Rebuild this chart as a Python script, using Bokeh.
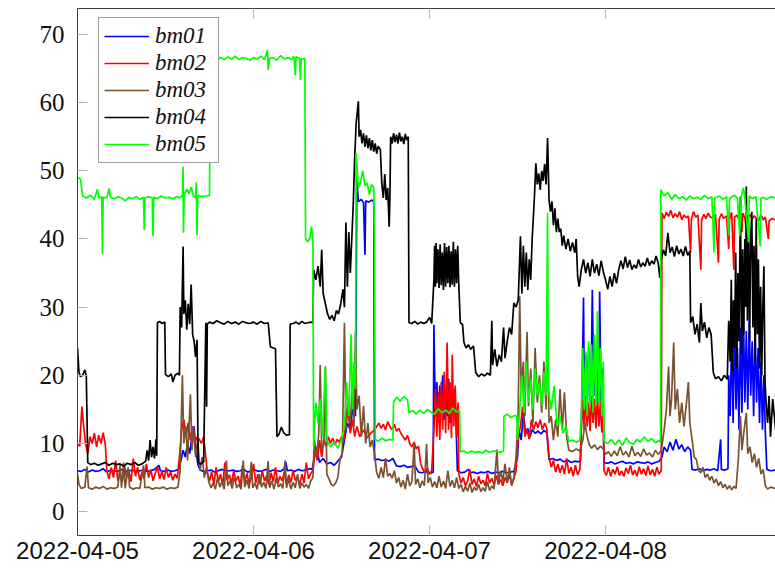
import pandas as pd
from bokeh.plotting import figure
from bokeh.models import (Range1d, FixedTicker, DatetimeTickFormatter, DatetimeAxis,
                          Legend, LegendItem, CustomJSTickFormatter)
from bokeh.embed import file_html
from bokeh.resources import INLINE

# ---------------- data (hours after 2022-04-05 00:00, value) ----------------
START = "2022-04-05 00:00"
X_END_HOURS = 95.18
DATE_TICKS = ["2022-04-05", "2022-04-06", "2022-04-07", "2022-04-08"]
Y_TICKS = [0, 10, 20, 30, 40, 50, 60, 70]
NAMES = ["bm01", "bm02", "bm03", "bm04", "bm05"]
COLORS = ["#0000ff", "#ff0000", "#7a5230", "#000000", "#00ff00"]

bm01 = [(0, 6.0), (0.5, 5.9), (1.0, 6.2), (1.5, 5.8), (2.0, 6.1), (2.5, 5.9), (3.0, 6.0), (3.5, 6.3),
        (4.0, 5.8), (4.5, 6.1), (5.0, 6.0), (5.5, 5.9), (6.0, 6.2), (6.5, 5.9), (7.0, 6.0), (7.5, 6.1),
        (8.0, 5.8), (8.5, 6.0), (9.0, 6.1), (9.5, 5.9), (10.0, 6.0), (10.5, 6.2), (11.1, 6.8), (11.3, 6.0),
        (11.8, 5.9), (12.3, 6.1), (12.8, 5.9), (13.3, 6.0), (13.8, 6.2), (14.1, 7.5), (14.4, 9.0), (14.7, 8.0),
        (15.0, 10.0), (15.3, 8.5), (15.6, 11.0), (15.9, 12.5), (16.1, 9.5), (16.4, 7.0), (16.7, 6.1),
        (17.2, 5.9), (17.7, 6.0), (18.2, 6.1), (18.7, 5.8), (19.2, 6.0), (19.7, 6.2), (20.2, 5.9), (20.7, 6.0),
        (21.2, 6.1), (21.7, 5.9), (22.2, 6.0), (22.7, 6.2), (23.2, 5.8), (23.7, 6.0), (24.2, 6.1), (24.7, 5.9),
        (25.2, 6.0), (25.7, 6.2), (26.2, 5.9), (26.7, 6.1), (27.2, 6.0), (27.7, 5.9), (28.2, 6.3), (28.4, 7.3),
        (28.6, 6.0), (29.1, 6.1), (29.6, 5.9), (30.1, 6.2), (30.6, 6.0), (31.1, 6.1), (31.6, 6.3), (32.0, 6.2),
        (32.3, 8.0), (32.6, 9.5), (33.0, 7.2), (33.5, 7.8), (34.0, 7.0), (34.5, 7.2), (35.0, 6.8), (35.5, 7.4),
        (36.0, 8.0), (36.4, 10.5), (36.8, 13.0), (37.2, 12.0), (37.6, 16.0), (37.9, 14.0), (38.1, 48.7),
        (38.3, 45.5), (38.7, 45.8), (39.0, 45.3), (39.2, 37.7), (39.3, 45.6), (39.7, 45.4), (40.1, 45.7),
        (40.4, 45.5), (40.5, 7.6), (41.0, 7.7), (41.5, 7.5), (42.0, 7.6), (42.5, 7.4), (43.0, 7.8), (43.5, 6.7),
        (44.0, 6.6), (44.5, 6.8), (45.0, 6.5), (45.5, 6.6), (46.0, 6.7), (46.5, 5.8), (47.0, 5.7), (47.5, 5.9),
        (48.0, 5.6), (48.5, 5.8), (48.6, 27.4), (48.8, 14.0), (49.0, 19.0), (49.2, 13.0), (49.4, 18.5),
        (49.6, 14.5), (49.8, 20.0), (50.0, 13.5), (50.2, 18.0), (50.4, 14.0), (50.6, 19.5), (50.8, 13.0),
        (51.0, 17.0), (51.2, 14.0), (51.4, 18.0), (51.6, 13.5), (51.8, 6.0), (52.3, 5.7), (52.8, 5.8),
        (53.3, 6.2), (53.5, 5.7), (54.0, 5.8), (54.5, 5.6), (55.0, 5.8), (55.5, 5.7), (56.0, 5.9), (56.5, 5.6),
        (57.0, 5.8), (57.5, 5.7), (58.0, 5.9), (58.5, 5.7), (59.0, 5.8), (59.5, 5.9), (60.0, 8.0), (60.2, 12.0),
        (60.5, 10.5), (60.8, 14.5), (61.1, 11.5), (61.4, 12.2), (61.7, 11.0), (62.0, 12.0), (62.4, 11.5),
        (62.8, 11.8), (63.2, 11.4), (63.6, 11.9), (64.0, 11.6), (64.3, 7.6), (64.8, 7.8), (65.3, 7.5),
        (65.8, 7.7), (66.3, 7.3), (66.8, 7.6), (67.3, 7.2), (67.8, 7.4), (68.3, 7.3), (68.6, 7.5), (68.8, 18.0),
        (69.0, 31.4), (69.1, 17.0), (69.3, 23.0), (69.5, 15.0), (69.7, 24.0), (69.9, 16.0), (70.1, 24.0),
        (70.2, 32.5), (70.4, 17.0), (70.6, 23.0), (70.8, 15.5), (71.0, 22.0), (71.1, 16.0), (71.2, 32.3),
        (71.4, 16.0), (71.6, 21.0), (71.8, 7.2), (72.3, 7.1), (72.8, 7.3), (73.3, 7.0), (73.8, 7.2),
        (74.3, 7.4), (74.8, 7.1), (75.3, 7.2), (75.8, 7.0), (76.3, 7.3), (76.8, 7.2), (77.3, 7.1), (77.8, 7.3),
        (78.3, 7.0), (78.8, 7.2), (79.3, 7.4), (79.7, 8.0), (80.0, 9.5), (80.4, 8.8), (80.8, 10.2), (81.2, 9.0),
        (81.6, 10.6), (82.0, 9.2), (82.4, 9.8), (82.8, 8.8), (83.2, 9.5), (83.6, 9.0), (83.8, 6.2), (84.3, 6.1),
        (84.8, 6.3), (85.3, 6.0), (85.8, 6.2), (86.3, 6.1), (86.8, 6.3), (87.3, 6.0), (87.7, 10.6), (87.8, 6.2),
        (88.3, 6.1), (88.7, 6.3), (88.8, 20.0), (89.0, 14.0), (89.2, 26.0), (89.4, 13.0), (89.6, 28.0),
        (89.8, 15.0), (90.0, 24.0), (90.2, 12.0), (90.4, 27.0), (90.6, 14.5), (90.8, 29.5), (91.0, 16.0),
        (91.2, 26.5), (91.4, 15.0), (91.6, 28.0), (91.8, 17.0), (92.0, 25.0), (92.2, 14.0), (92.4, 27.0),
        (92.6, 16.0), (92.8, 24.0), (93.0, 13.0), (93.2, 22.0), (93.4, 12.0), (93.6, 20.0), (93.8, 11.5),
        (94.0, 6.2), (94.5, 6.0), (95.2, 6.1)]

bm02 = [(0, 10.0), (0.3, 9.6), (0.6, 15.4), (0.8, 13.0), (1.1, 10.0), (1.4, 8.5), (1.7, 11.0), (2.0, 10.0),
        (2.3, 11.5), (2.6, 9.5), (2.9, 11.2), (3.2, 10.0), (3.5, 11.6), (3.8, 9.8), (4.0, 6.0), (4.3, 4.8),
        (4.6, 6.5), (4.9, 5.0), (5.2, 7.5), (5.5, 4.5), (5.8, 5.5), (6.1, 4.3), (6.4, 6.8), (6.7, 5.0),
        (7.0, 6.0), (7.3, 4.4), (7.6, 7.8), (7.9, 5.2), (8.2, 6.5), (8.5, 4.6), (8.8, 5.8), (9.1, 4.8),
        (9.4, 7.0), (9.7, 5.0), (10.0, 6.2), (10.3, 4.5), (10.6, 5.6), (10.9, 6.6), (11.2, 4.8), (11.5, 5.9),
        (11.8, 4.7), (12.1, 6.5), (12.4, 5.0), (12.7, 5.8), (13.0, 4.6), (13.3, 5.5), (13.6, 4.9), (13.9, 8.0),
        (14.2, 12.0), (14.5, 13.5), (14.8, 11.0), (15.1, 13.0), (15.4, 10.5), (15.7, 12.5), (16.0, 10.0),
        (16.3, 11.0), (16.6, 10.6), (16.9, 10.0), (17.2, 11.0), (17.5, 8.0), (17.7, 5.7), (18.0, 4.5),
        (18.3, 5.8), (18.6, 4.0), (18.9, 6.5), (19.2, 4.4), (19.5, 5.5), (19.8, 3.9), (20.1, 7.2), (20.4, 4.6),
        (20.7, 5.4), (21.0, 4.1), (21.3, 6.0), (21.6, 4.5), (21.9, 5.2), (22.2, 3.8), (22.5, 6.8), (22.8, 4.3),
        (23.1, 5.6), (23.4, 4.0), (23.7, 5.0), (24.0, 7.0), (24.3, 4.2), (24.6, 5.5), (24.9, 4.0), (25.2, 6.0),
        (25.5, 4.5), (25.8, 5.3), (26.1, 3.9), (26.4, 5.7), (26.7, 4.4), (27.0, 6.5), (27.3, 4.1), (27.6, 5.2),
        (27.9, 4.5), (28.2, 5.8), (28.5, 4.0), (28.8, 5.4), (29.1, 4.3), (29.4, 6.0), (29.7, 4.6), (30.0, 5.1),
        (30.3, 3.9), (30.6, 5.5), (30.9, 4.2), (31.2, 7.2), (31.5, 4.8), (31.8, 5.6), (32.1, 6.0), (32.4, 9.0),
        (32.7, 7.5), (33.0, 10.5), (33.3, 8.0), (33.6, 10.6), (33.9, 9.5), (34.2, 11.0), (34.5, 10.0),
        (34.8, 10.8), (35.1, 9.8), (35.4, 10.6), (35.7, 10.2), (36.0, 11.0), (36.3, 10.5), (36.6, 13.0),
        (36.9, 15.0), (37.2, 11.5), (37.5, 13.5), (37.8, 11.0), (38.1, 12.5), (38.5, 11.0), (39.0, 12.0),
        (39.5, 10.8), (40.0, 11.5), (40.5, 12.0), (40.8, 12.5), (41.1, 13.0), (41.4, 12.2), (41.7, 12.8),
        (42.0, 12.0), (42.3, 13.2), (42.6, 12.5), (42.9, 12.0), (43.2, 12.8), (43.5, 11.8), (43.8, 12.2),
        (44.1, 11.5), (44.4, 11.0), (44.7, 10.5), (45.0, 11.2), (45.3, 10.0), (45.6, 9.5), (45.9, 10.2),
        (46.2, 9.2), (46.5, 9.6), (46.8, 7.0), (47.1, 6.2), (47.4, 5.8), (47.7, 6.4), (48.0, 5.5), (48.3, 6.0),
        (48.6, 12.0), (48.8, 18.0), (49.0, 11.0), (49.2, 17.5), (49.4, 10.5), (49.6, 19.0), (49.8, 12.0),
        (50.0, 20.5), (50.2, 11.5), (50.4, 24.8), (50.6, 12.0), (50.8, 19.0), (51.0, 10.8), (51.1, 23.0),
        (51.3, 12.5), (51.5, 18.5), (51.7, 11.0), (51.9, 16.0), (52.0, 5.5), (52.3, 4.2), (52.6, 5.0),
        (52.9, 3.8), (53.2, 4.5), (53.5, 6.2), (53.8, 4.0), (54.1, 4.8), (54.4, 3.7), (54.7, 5.2), (55.0, 4.1),
        (55.3, 4.6), (55.6, 3.8), (55.9, 5.6), (56.2, 4.2), (56.5, 4.9), (56.8, 3.9), (57.1, 5.3), (57.4, 4.0),
        (57.7, 4.7), (58.0, 3.8), (58.3, 5.0), (58.6, 4.3), (58.9, 5.4), (59.2, 4.0), (59.5, 4.8), (59.8, 6.0),
        (60.1, 11.0), (60.4, 12.5), (60.7, 15.4), (61.0, 11.0), (61.3, 12.0), (61.6, 10.6), (61.9, 13.5),
        (62.2, 12.0), (62.5, 13.2), (62.8, 12.3), (63.1, 13.5), (63.4, 12.0), (63.7, 13.0), (64.0, 12.2),
        (64.3, 8.0), (64.6, 6.5), (64.9, 7.5), (65.2, 5.8), (65.5, 7.0), (65.8, 5.7), (66.1, 6.8), (66.4, 5.5),
        (66.7, 7.8), (67.0, 5.6), (67.3, 6.5), (67.6, 5.2), (67.9, 6.8), (68.2, 5.4), (68.5, 6.2), (68.7, 12.0),
        (68.9, 16.5), (69.1, 12.0), (69.3, 17.0), (69.5, 12.5), (69.7, 16.0), (69.9, 11.8), (70.1, 17.0),
        (70.3, 13.0), (70.5, 16.5), (70.7, 12.2), (70.9, 17.2), (71.1, 12.5), (71.3, 16.0), (71.5, 11.6),
        (71.7, 14.0), (71.8, 6.0), (72.1, 5.3), (72.4, 6.5), (72.7, 5.2), (73.0, 6.2), (73.3, 5.5), (73.6, 6.6),
        (73.9, 5.3), (74.2, 6.0), (74.5, 5.2), (74.8, 6.4), (75.1, 5.6), (75.4, 6.8), (75.7, 5.4), (76.0, 6.1),
        (76.3, 5.2), (76.6, 6.6), (76.9, 5.5), (77.2, 6.3), (77.5, 5.3), (77.8, 6.7), (78.1, 5.4), (78.4, 6.2),
        (78.7, 5.2), (79.0, 6.5), (79.3, 5.5), (79.6, 6.0), (79.7, 43.8), (80.0, 43.0), (80.3, 43.9),
        (80.6, 43.3), (80.9, 44.2), (81.2, 43.1), (81.5, 43.7), (81.8, 43.2), (82.1, 44.0), (82.4, 42.8),
        (82.7, 43.5), (83.0, 43.1), (83.3, 43.4), (83.6, 38.0), (83.7, 42.9), (84.0, 44.0), (84.3, 43.2),
        (84.6, 43.5), (85.0, 35.5), (85.1, 42.8), (85.4, 43.6), (85.7, 43.0), (86.0, 43.8), (86.3, 43.2),
        (86.6, 43.1), (87.0, 43.6), (87.4, 36.5), (87.5, 42.9), (87.8, 43.7), (88.1, 43.0), (88.5, 43.4),
        (88.8, 38.5), (88.9, 42.8), (89.2, 43.9), (89.5, 35.5), (89.6, 43.2), (89.9, 43.5), (90.2, 42.9),
        (90.6, 41.0), (90.7, 43.8), (91.0, 43.1), (91.3, 41.0), (91.4, 43.3), (91.7, 43.6), (92.0, 42.9),
        (92.3, 43.4), (92.6, 43.0), (92.9, 42.7), (93.2, 43.5), (93.5, 42.8), (93.8, 43.2), (94.2, 40.0),
        (94.3, 42.6), (94.7, 43.0), (95.2, 42.8)]

bm03 = [(0, 5.5), (0.2, 4.0), (0.5, 3.4), (1.0, 3.6), (1.3, 6.6), (1.5, 3.5), (2.0, 3.3), (2.5, 3.6),
        (3.0, 3.4), (3.5, 3.7), (4.0, 3.3), (4.5, 3.5), (5.0, 3.4), (5.5, 3.6), (5.8, 6.8), (6.0, 3.5),
        (6.3, 7.2), (6.5, 3.4), (6.9, 6.5), (7.1, 3.6), (7.6, 3.3), (8.0, 3.5), (8.5, 3.4), (9.0, 6.8),
        (9.2, 3.5), (9.7, 3.6), (10.2, 3.3), (10.7, 3.5), (11.2, 3.4), (11.7, 3.6), (12.2, 3.3), (12.7, 3.5),
        (13.2, 3.4), (13.7, 3.6), (14.0, 6.0), (14.3, 20.0), (14.5, 10.0), (14.8, 12.5), (15.0, 7.5),
        (15.4, 17.2), (15.6, 9.0), (15.8, 12.5), (16.1, 8.0), (16.4, 10.5), (16.7, 6.0), (17.0, 8.0),
        (17.3, 5.0), (17.6, 6.5), (17.9, 4.4), (18.2, 3.5), (18.5, 4.2), (18.8, 3.3), (19.1, 5.0), (19.4, 3.6),
        (19.7, 4.4), (20.0, 3.3), (20.3, 7.5), (20.5, 3.8), (20.8, 4.5), (21.1, 3.4), (21.4, 5.2), (21.7, 3.5),
        (22.0, 4.0), (22.3, 3.3), (22.6, 7.5), (22.8, 3.6), (23.1, 4.6), (23.4, 3.4), (23.7, 7.3), (23.9, 3.5),
        (24.2, 4.2), (24.5, 3.3), (24.8, 5.5), (25.1, 3.6), (25.4, 4.3), (25.7, 3.4), (26.0, 7.4), (26.2, 3.5),
        (26.5, 4.5), (26.8, 3.3), (27.1, 5.0), (27.4, 3.6), (27.7, 4.1), (28.0, 3.4), (28.3, 7.5), (28.5, 3.5),
        (28.8, 4.8), (29.1, 3.3), (29.4, 4.3), (29.7, 3.5), (30.0, 5.5), (30.3, 3.4), (30.6, 4.2), (30.9, 3.6),
        (31.2, 4.0), (31.5, 3.4), (31.8, 4.5), (32.1, 5.0), (32.3, 10.6), (32.6, 8.0), (32.9, 11.5),
        (33.1, 21.5), (33.3, 9.0), (33.6, 10.0), (33.8, 21.3), (34.0, 5.5), (34.3, 4.8), (34.6, 4.0),
        (34.9, 3.8), (35.2, 4.2), (35.5, 5.0), (35.8, 7.8), (36.1, 8.5), (36.4, 27.7), (36.6, 12.0),
        (36.9, 16.0), (37.2, 13.0), (37.5, 19.0), (37.7, 12.5), (37.9, 26.4), (38.1, 15.0), (38.4, 17.0),
        (38.7, 11.0), (39.0, 15.5), (39.3, 10.0), (39.6, 13.0), (39.9, 9.5), (40.2, 10.5), (40.5, 8.5),
        (40.8, 5.7), (41.1, 4.9), (41.4, 6.5), (41.7, 5.0), (42.0, 7.8), (42.3, 5.2), (42.6, 5.6), (42.9, 4.9),
        (43.2, 6.0), (43.5, 4.2), (43.8, 5.0), (44.1, 3.6), (44.4, 4.6), (44.7, 3.3), (45.0, 5.5), (45.3, 3.8),
        (45.6, 4.4), (45.9, 9.9), (46.1, 4.0), (46.4, 4.8), (46.7, 3.5), (47.0, 4.5), (47.3, 3.8), (47.6, 9.9),
        (47.8, 4.2), (48.1, 5.0), (48.4, 3.6), (48.7, 4.4), (49.0, 3.5), (49.3, 5.2), (49.6, 3.6), (49.9, 4.5),
        (50.2, 3.4), (50.5, 6.0), (50.8, 3.7), (51.1, 4.6), (51.4, 3.5), (51.7, 5.0), (52.0, 3.4), (52.3, 4.0),
        (52.6, 2.9), (52.9, 3.7), (53.2, 3.0), (53.5, 4.2), (53.8, 2.8), (54.1, 3.6), (54.4, 3.1), (54.7, 4.0),
        (55.0, 2.9), (55.3, 3.5), (55.6, 3.0), (55.9, 4.4), (56.2, 3.1), (56.5, 3.8), (56.8, 3.3), (57.2, 9.1),
        (57.4, 4.0), (57.7, 6.0), (58.0, 4.4), (58.3, 7.0), (58.6, 4.2), (58.9, 6.5), (59.2, 3.8), (59.5, 5.0),
        (59.8, 8.0), (60.1, 15.0), (60.3, 31.6), (60.5, 18.0), (60.8, 22.0), (61.0, 14.0), (61.3, 26.4),
        (61.5, 15.5), (61.8, 21.0), (62.1, 13.0), (62.4, 24.0), (62.7, 16.0), (63.0, 20.0), (63.3, 14.5),
        (63.6, 22.0), (63.9, 15.0), (64.1, 27.9), (64.3, 13.0), (64.6, 14.0), (64.9, 10.5), (65.2, 13.5),
        (65.5, 11.0), (65.8, 18.0), (66.1, 12.0), (66.4, 17.5), (66.7, 11.0), (67.0, 9.0), (67.5, 8.8),
        (68.0, 9.2), (68.5, 8.9), (68.9, 10.5), (69.2, 13.0), (69.5, 11.0), (69.8, 9.8), (70.1, 9.3),
        (70.5, 9.8), (70.9, 9.1), (71.3, 9.6), (71.7, 9.2), (72.0, 8.4), (72.4, 8.8), (72.8, 8.1), (73.2, 8.9),
        (73.6, 8.2), (74.0, 9.5), (74.4, 8.3), (74.8, 8.8), (75.2, 8.0), (75.6, 9.6), (76.0, 8.2), (76.4, 8.7),
        (76.8, 8.1), (77.2, 9.2), (77.6, 8.3), (78.0, 8.6), (78.4, 8.0), (78.8, 9.0), (79.2, 8.4), (79.6, 9.0),
        (80.0, 12.0), (80.3, 15.0), (80.6, 21.3), (80.8, 14.0), (81.0, 16.5), (81.3, 24.8), (81.5, 15.0),
        (81.8, 18.0), (82.1, 13.0), (82.4, 16.0), (82.7, 12.5), (83.0, 15.5), (83.3, 19.0), (83.5, 13.0),
        (83.8, 10.6), (84.1, 8.0), (84.4, 7.6), (84.7, 6.0), (85.0, 5.7), (85.3, 6.5), (85.6, 5.0), (85.9, 5.5),
        (86.2, 4.6), (86.5, 5.2), (86.8, 4.2), (87.1, 4.8), (87.4, 3.8), (87.7, 4.4), (88.0, 3.5), (88.3, 4.0),
        (88.6, 3.3), (88.9, 3.8), (89.2, 3.2), (89.5, 3.7), (89.8, 3.4), (90.1, 7.5), (90.4, 14.0), (90.6, 9.0),
        (90.9, 12.0), (91.2, 14.5), (91.4, 8.5), (91.7, 9.5), (92.0, 7.2), (92.3, 8.5), (92.6, 6.5),
        (92.9, 7.8), (93.2, 5.5), (93.5, 6.2), (93.8, 3.8), (94.1, 3.3), (94.5, 3.6), (95.2, 3.4)]

bm04 = [(0, 24.0), (0.2, 20.5), (0.4, 19.8), (0.7, 20.0), (1.0, 20.8), (1.2, 19.9), (1.4, 7.2), (1.8, 6.9),
        (2.3, 7.1), (2.8, 6.8), (3.3, 7.0), (3.8, 7.2), (4.3, 6.8), (4.8, 7.1), (5.3, 6.9), (5.8, 7.0),
        (6.3, 6.7), (6.8, 7.1), (7.3, 6.9), (7.8, 7.2), (8.3, 6.8), (8.8, 7.0), (9.3, 7.4), (9.5, 9.0),
        (9.7, 7.5), (9.9, 10.5), (10.1, 8.0), (10.3, 9.5), (10.5, 7.8), (10.7, 10.6), (10.8, 8.2), (10.9, 27.7),
        (11.2, 27.9), (11.5, 27.6), (11.9, 27.8), (12.0, 20.1), (12.4, 19.8), (12.8, 20.2), (13.0, 19.0),
        (13.3, 20.0), (13.7, 20.3), (13.9, 20.0), (14.0, 30.0), (14.2, 27.0), (14.4, 38.9), (14.5, 29.0),
        (14.7, 31.0), (14.9, 26.7), (15.1, 30.5), (15.3, 27.5), (15.5, 33.3), (15.7, 26.0), (15.9, 25.0),
        (16.1, 22.7), (16.3, 25.2), (16.45, 7.2), (16.8, 7.0), (17.2, 7.3), (17.5, 27.7), (17.6, 15.4),
        (17.7, 27.5), (18.0, 27.8), (18.5, 27.6), (19.0, 28.0), (19.5, 27.7), (20.0, 27.5), (20.5, 27.9),
        (21.0, 27.6), (21.5, 27.8), (22.0, 27.5), (22.5, 27.9), (23.0, 27.7), (23.5, 27.6), (24.0, 27.8),
        (24.5, 27.5), (25.0, 27.9), (25.5, 27.6), (26.0, 27.7), (26.3, 24.2), (26.7, 24.0), (27.0, 23.9),
        (27.2, 11.0), (27.5, 11.4), (27.8, 12.4), (28.1, 11.6), (28.5, 11.2), (28.9, 11.3), (29.0, 27.5),
        (29.4, 27.6), (29.8, 27.8), (30.2, 27.5), (30.6, 27.9), (31.0, 27.6), (31.4, 27.7), (31.8, 27.8),
        (32.1, 27.7), (32.2, 35.5), (32.5, 34.0), (32.8, 36.0), (33.1, 33.0), (33.3, 38.4), (33.5, 32.0),
        (33.8, 30.5), (34.1, 29.0), (34.4, 28.2), (34.7, 28.8), (35.0, 28.0), (35.3, 29.5), (35.6, 29.0),
        (35.9, 30.5), (36.2, 32.6), (36.4, 30.0), (36.6, 42.4), (36.8, 33.0), (37.0, 41.0), (37.2, 35.0),
        (37.4, 40.0), (37.6, 45.0), (37.8, 52.0), (38.0, 57.0), (38.3, 60.2), (38.4, 55.0), (38.6, 56.0),
        (38.8, 54.0), (39.0, 55.5), (39.2, 53.5), (39.4, 55.2), (39.6, 53.3), (39.8, 54.8), (40.0, 53.0),
        (40.2, 54.5), (40.4, 52.8), (40.6, 54.0), (40.8, 52.5), (41.0, 53.6), (41.3, 53.1), (41.5, 48.0),
        (41.7, 46.0), (41.9, 49.5), (42.1, 45.7), (42.3, 47.5), (42.5, 41.8), (42.6, 46.0), (42.7, 55.0),
        (42.9, 54.0), (43.1, 55.5), (43.3, 54.2), (43.5, 55.3), (43.7, 54.0), (43.9, 55.6), (44.1, 54.3),
        (44.3, 55.0), (44.5, 53.9), (44.7, 55.4), (44.9, 54.5), (45.1, 55.0), (45.2, 27.7), (45.6, 27.6),
        (46.0, 27.9), (46.4, 27.5), (46.8, 27.8), (47.2, 27.6), (47.6, 27.8), (48.0, 28.5), (48.3, 27.6),
        (48.6, 34.0), (48.7, 39.0), (48.8, 33.0), (48.9, 39.4), (49.0, 33.5), (49.15, 38.5), (49.3, 32.8),
        (49.45, 39.2), (49.6, 33.2), (49.75, 38.0), (49.9, 32.5), (50.05, 39.4), (50.2, 33.0), (50.35, 38.8),
        (50.5, 33.5), (50.65, 39.0), (50.8, 32.9), (50.95, 38.2), (51.1, 33.3), (51.25, 39.6), (51.4, 33.0),
        (51.55, 38.5), (51.7, 33.5), (51.85, 39.0), (52.0, 33.0), (52.2, 27.7), (52.5, 27.5), (52.7, 24.8),
        (53.0, 24.0), (53.3, 24.5), (53.6, 23.8), (54.0, 24.3), (54.3, 20.4), (54.7, 19.8), (55.1, 20.2),
        (55.5, 19.9), (55.9, 20.3), (56.3, 20.0), (56.5, 28.0), (56.6, 21.5), (56.9, 23.8), (57.2, 21.3),
        (57.5, 23.0), (57.8, 22.0), (58.1, 27.0), (58.3, 22.5), (58.6, 25.0), (58.9, 27.0), (59.2, 26.0),
        (59.5, 30.6), (59.8, 30.0), (60.1, 31.0), (60.4, 40.4), (60.6, 32.0), (60.8, 39.0), (61.0, 33.0),
        (61.2, 38.0), (61.4, 32.5), (61.6, 37.0), (61.8, 34.0), (62.0, 40.0), (62.3, 46.0), (62.5, 51.1),
        (62.7, 48.0), (62.9, 49.6), (63.1, 47.2), (63.3, 50.0), (63.5, 48.5), (63.7, 51.0), (63.9, 48.0),
        (64.1, 54.8), (64.3, 45.7), (64.5, 44.0), (64.7, 45.5), (64.9, 42.0), (65.1, 44.5), (65.3, 41.0),
        (65.5, 43.0), (65.7, 41.0), (65.9, 41.5), (66.1, 39.0), (66.3, 40.5), (66.6, 38.5), (66.9, 40.0),
        (67.2, 38.2), (67.5, 39.5), (67.8, 38.0), (68.0, 40.0), (68.2, 34.5), (68.4, 33.0), (68.7, 35.5),
        (69.0, 37.0), (69.3, 35.0), (69.6, 36.5), (69.9, 34.5), (70.2, 37.0), (70.5, 35.0), (70.8, 36.3),
        (71.1, 34.6), (71.4, 36.8), (71.7, 35.2), (72.0, 34.0), (72.3, 32.6), (72.6, 34.5), (72.9, 33.0),
        (73.2, 35.0), (73.5, 33.5), (73.8, 35.5), (74.1, 36.8), (74.4, 35.6), (74.7, 37.4), (75.0, 35.8),
        (75.3, 36.9), (75.6, 35.5), (75.9, 36.2), (76.2, 35.7), (76.5, 37.0), (76.8, 35.9), (77.1, 36.5),
        (77.4, 36.0), (77.7, 37.2), (78.0, 36.1), (78.3, 36.8), (78.6, 36.3), (78.9, 37.5), (79.2, 36.4),
        (79.4, 34.3), (79.6, 37.0), (79.9, 38.4), (80.2, 37.5), (80.5, 40.9), (80.8, 38.0), (81.1, 38.8),
        (81.4, 37.4), (81.7, 39.0), (82.0, 37.8), (82.3, 38.5), (82.6, 37.5), (82.9, 38.9), (83.2, 37.6),
        (83.5, 38.2), (83.6, 27.7), (83.9, 28.6), (84.2, 26.0), (84.5, 27.5), (84.8, 24.8), (85.0, 30.6),
        (85.2, 26.5), (85.5, 27.8), (85.8, 25.5), (86.1, 27.0), (86.4, 26.0), (86.7, 20.4), (87.0, 19.5),
        (87.4, 19.8), (87.8, 19.2), (88.2, 20.0), (88.6, 19.4), (88.8, 28.0), (89.0, 22.0), (89.15, 34.0),
        (89.3, 20.5), (89.45, 31.0), (89.6, 24.0), (89.75, 38.0), (89.9, 21.0), (90.05, 35.0), (90.2, 25.0),
        (90.4, 46.2), (90.55, 23.0), (90.7, 38.5), (90.85, 26.0), (91.0, 40.0), (91.1, 30.0), (91.2, 47.7),
        (91.35, 28.0), (91.5, 42.0), (91.65, 25.0), (91.8, 40.0), (91.95, 44.0), (92.1, 27.0), (92.25, 39.0),
        (92.4, 22.0), (92.55, 43.0), (92.7, 26.0), (92.85, 37.0), (93.0, 21.0), (93.15, 33.0), (93.3, 20.0),
        (93.45, 30.0), (93.6, 36.0), (93.75, 19.0), (93.9, 16.0), (94.1, 13.0), (94.3, 17.0), (94.5, 11.0),
        (94.8, 16.5), (95.2, 12.0)]

bm05 = [(0, 49.0), (0.4, 48.8), (0.7, 46.3), (1.2, 46.0), (1.8, 46.4), (2.3, 45.8), (2.7, 47.3), (2.9, 46.0),
        (3.3, 46.2), (3.4, 37.8), (3.5, 46.1), (4.0, 46.0), (4.3, 47.4), (4.5, 46.1), (5.0, 45.9), (5.5, 46.2),
        (6.0, 46.0), (6.5, 45.6), (7.0, 46.1), (7.5, 45.9), (8.0, 46.2), (8.5, 45.8), (9.0, 46.1), (9.1, 41.3),
        (9.2, 46.0), (9.7, 46.2), (10.2, 46.0), (10.3, 40.4), (10.4, 46.1), (10.9, 45.9), (11.4, 46.3),
        (12.0, 46.0), (12.5, 46.1), (13.0, 45.9), (13.5, 46.2), (14.0, 46.0), (14.3, 46.4), (14.4, 50.6),
        (14.45, 40.9), (14.55, 46.5), (14.9, 47.3), (15.2, 46.6), (15.5, 47.6), (15.8, 46.3), (16.1, 46.0),
        (16.2, 48.3), (16.3, 40.5), (16.4, 46.4), (17.0, 46.2), (17.6, 46.3), (18.0, 46.4), (18.1, 66.0),
        (18.5, 66.4), (19.0, 66.2), (19.5, 66.6), (20.0, 66.3), (20.5, 66.7), (21.0, 66.4), (21.5, 66.8),
        (22.0, 66.3), (22.5, 66.6), (23.0, 66.5), (23.5, 66.2), (24.0, 66.6), (24.5, 66.4), (25.0, 66.8),
        (25.5, 66.3), (25.9, 67.7), (26.0, 64.8), (26.2, 66.5), (26.7, 66.6), (27.2, 66.2), (27.7, 66.9),
        (28.2, 66.4), (28.7, 66.6), (29.2, 66.3), (29.5, 66.8), (29.7, 64.0), (29.8, 66.7), (30.3, 66.5),
        (30.4, 63.3), (30.5, 66.4), (31.0, 66.4), (31.1, 40.0), (31.4, 39.6), (31.7, 40.2), (31.9, 41.8),
        (32.1, 40.0), (32.2, 9.5), (32.5, 16.0), (32.8, 13.0), (33.1, 16.5), (33.4, 11.0), (33.8, 21.3),
        (34.0, 10.5), (34.5, 9.5), (35.0, 10.2), (35.5, 9.3), (36.0, 10.6), (36.4, 12.5), (36.7, 19.0),
        (37.0, 14.0), (37.3, 26.0), (37.5, 15.0), (37.7, 22.0), (37.9, 18.0), (38.0, 52.6), (38.3, 47.5),
        (38.6, 48.4), (38.9, 50.0), (39.2, 47.8), (39.5, 48.2), (39.8, 46.5), (40.1, 48.0), (40.4, 47.5),
        (40.5, 38.5), (40.6, 10.6), (41.0, 10.3), (41.5, 10.8), (42.0, 10.4), (42.5, 10.6), (43.0, 10.5),
        (43.1, 16.0), (43.5, 16.8), (44.0, 16.2), (44.5, 16.9), (45.0, 16.4), (45.2, 14.5), (45.7, 14.8),
        (46.2, 14.3), (46.7, 14.9), (47.2, 14.4), (47.7, 15.0), (48.2, 14.6), (48.7, 14.3), (49.2, 15.1),
        (49.7, 14.5), (50.2, 14.9), (50.7, 14.4), (51.2, 15.2), (51.7, 14.6), (52.1, 14.8), (52.2, 8.8),
        (52.7, 8.9), (53.2, 8.6), (53.7, 8.9), (54.2, 8.7), (54.7, 8.8), (55.2, 8.6), (55.7, 9.0), (56.2, 8.7),
        (56.7, 8.9), (57.2, 8.8), (57.7, 8.7), (58.1, 8.9), (58.15, 14.0), (58.6, 14.3), (59.1, 13.8),
        (59.6, 14.1), (59.9, 14.0), (60.0, 10.5), (60.3, 15.0), (60.6, 20.0), (60.9, 14.5), (61.2, 22.0),
        (61.5, 16.0), (61.8, 19.5), (62.1, 15.0), (62.4, 21.0), (62.7, 17.0), (63.0, 19.0), (63.3, 15.5),
        (63.6, 20.5), (63.9, 17.0), (64.1, 43.8), (64.2, 18.0), (64.6, 15.0), (65.0, 18.5), (65.4, 12.5),
        (65.8, 14.0), (66.2, 11.5), (66.6, 12.5), (67.0, 10.3), (67.5, 10.5), (68.0, 10.2), (68.5, 10.4),
        (68.7, 14.0), (68.9, 24.0), (69.1, 15.0), (69.3, 23.5), (69.5, 14.0), (69.7, 25.0), (69.9, 16.0),
        (70.1, 24.5), (70.3, 14.5), (70.5, 26.0), (70.7, 15.5), (70.9, 29.4), (71.1, 16.0), (71.3, 24.0),
        (71.5, 14.0), (71.7, 22.0), (71.8, 10.3), (72.3, 10.0), (72.8, 10.6), (73.3, 9.8), (73.8, 10.5),
        (74.3, 9.7), (74.8, 10.8), (75.3, 10.1), (75.8, 9.9), (76.3, 10.6), (76.8, 10.2), (77.3, 11.0),
        (77.8, 10.3), (78.3, 10.7), (78.8, 10.1), (79.3, 10.4), (79.5, 10.2), (79.55, 47.2), (80.0, 46.3),
        (80.5, 46.8), (81.0, 45.8), (81.5, 46.5), (82.0, 45.9), (82.5, 46.2), (83.0, 45.7), (83.5, 46.3),
        (84.0, 45.9), (84.5, 46.1), (85.0, 45.8), (85.5, 46.4), (86.0, 45.9), (86.5, 46.2), (86.8, 38.0),
        (86.9, 46.0), (87.5, 46.3), (88.0, 45.8), (88.5, 46.2), (88.8, 40.5), (88.9, 45.9), (89.5, 46.4),
        (90.0, 46.0), (90.3, 40.4), (90.5, 46.2), (90.8, 47.5), (91.0, 46.0), (91.5, 39.5), (91.6, 46.3),
        (92.0, 45.9), (92.5, 46.2), (93.1, 38.9), (93.2, 46.0), (93.5, 46.1), (94.0, 45.8), (94.5, 46.2),
        (95.2, 46.0)]

SERIES = [bm01, bm02, bm03, bm04, bm05]

# ---------------- figure ----------------
start = pd.Timestamp(START)
p = figure(frame_width=698, frame_height=527, x_axis_type="datetime",
           output_backend="svg", toolbar_location=None,
           min_border_left=77, min_border_right=0, min_border_top=8, min_border_bottom=34,
           x_range=Range1d(start, start + pd.to_timedelta(X_END_HOURS, unit="h")),
           y_range=Range1d(-3.5, 73.8))
p.outline_line_color = None
p.grid.grid_line_color = None
p.background_fill_color = "white"
p.border_fill_color = "white"

renderers = []
for name, color, pts in zip(NAMES, COLORS, SERIES):
    t = [start + pd.to_timedelta(h, unit="h") for h, _ in pts]
    v = [val for _, val in pts]
    r = p.line(t, v, line_color=color, line_width=1.7)
    renderers.append(r)

tick_ms = [pd.Timestamp(d).value / 1e6 for d in DATE_TICKS]
fmt = DatetimeTickFormatter(days="%Y-%m-%d", months="%Y-%m-%d", hours="%Y-%m-%d",
                            years="%Y-%m-%d", minutes="%Y-%m-%d")

AX_COL = "#3c3c3c"
TICK_COL = "#b4b4b4"

xa = p.xaxis[0]
xa.ticker = FixedTicker(ticks=tick_ms)
xa.formatter = fmt
xa.major_tick_in = 10
xa.major_tick_out = 0
xa.minor_tick_line_color = None
xa.major_tick_line_color = TICK_COL
xa.axis_line_color = AX_COL
xa.major_label_text_font = "Liberation Sans"
xa.major_label_text_font_size = "24px"
xa.major_label_text_color = "#111111"
xa.major_label_standoff = 6

ya = p.yaxis[0]
ya.ticker = FixedTicker(ticks=Y_TICKS)
ya.major_tick_in = 10
ya.major_tick_out = 0
ya.minor_tick_line_color = None
ya.major_tick_line_color = TICK_COL
ya.axis_line_color = AX_COL
ya.major_label_text_font = "Liberation Serif"
ya.major_label_text_font_size = "25px"
ya.major_label_text_color = "#111111"
ya.major_label_standoff = 13

top = DatetimeAxis(ticker=FixedTicker(ticks=tick_ms),
                   formatter=CustomJSTickFormatter(code="return ''"),
                   major_tick_in=10, major_tick_out=0, minor_tick_line_color=None,
                   major_tick_line_color=TICK_COL, axis_line_color=AX_COL,
                   major_label_standoff=0)
p.add_layout(top, "above")

legend = Legend(items=[LegendItem(label=n, renderers=[r]) for n, r in zip(NAMES, renderers)],
                location=(21, 372), orientation="vertical",
                label_text_font="Liberation Serif", label_text_font_style="italic",
                label_text_font_size="23px", label_text_color="#111111",
                glyph_width=45, glyph_height=26, label_height=26, label_width=58,
                label_standoff=6, spacing=1, padding=5, margin=0,
                border_line_color="#3c3c3c", border_line_width=1,
                background_fill_color="white", background_fill_alpha=1.0)
p.add_layout(legend)

open("out.html", "w").write(file_html(p, INLINE))
